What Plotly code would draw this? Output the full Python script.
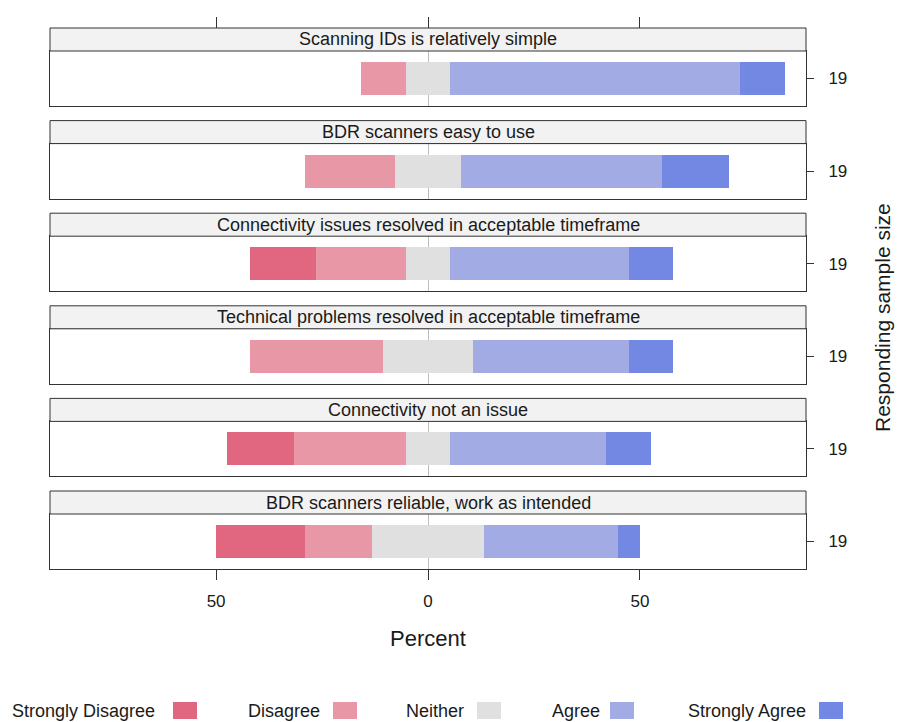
import plotly.graph_objects as go

# Survey items, top to bottom
items = [
    "Scanning IDs is relatively simple",
    "BDR scanners easy to use",
    "Connectivity issues resolved in acceptable timeframe",
    "Technical problems resolved in acceptable timeframe",
    "Connectivity not an issue",
    "BDR scanners reliable, work as intended",
]
levels = ["Strongly Disagree", "Disagree", "Neither", "Agree", "Strongly Agree"]

# Response counts per item
strongly_disagree = [0, 0, 3, 0, 3, 4]
disagree = [2, 4, 4, 6, 5, 3]
neither = [2, 3, 2, 4, 2, 5]
agree = [13, 9, 8, 7, 7, 6]
strongly_agree = [2, 3, 2, 2, 2, 1]
sample_size = [19, 19, 19, 19, 19, 19]

tick_vals = [-50, 0, 50]
tick_text = ["50", "0", "50"]

colors = {
    "Strongly Disagree": "#E0677F",
    "Disagree": "#E897A7",
    "Neither": "#E0E0E0",
    "Agree": "#A2ABE3",
    "Strongly Agree": "#7388E3",
}

FONT = "Liberation Sans, Arial, sans-serif"
TXT = "#1a1a1a"
LINE = "#333333"

W, H = 897, 722
ML, MR, MT, MB = 50, 91, 28, 153
plot_h = H - MT - MB
STRIP = 23      # strip height (px)
PANEL = 55      # panel height (px)
PERIOD = 92.6   # distance between panel tops (px)
XR = [-89.2, 89.2]

fig = go.Figure()
n_items = len(items)

for i, item in enumerate(items):
    k = i + 1
    sfx = "" if k == 1 else str(k)
    xa, ya = f"x{sfx}", f"y{sfx}"
    n = sample_size[i]
    pct = lambda v: v / n * 100.0
    half_neither = pct(neither[i]) / 2.0
    y = [item]
    common = dict(orientation="h", width=0.6, xaxis=xa, yaxis=ya,
                  showlegend=False, marker_line_width=0, hoverinfo="skip")
    # negative side stacks outward from zero: neither half, disagree, strongly disagree
    fig.add_trace(go.Bar(x=[-half_neither], y=y, marker_color=colors["Neither"], **common))
    fig.add_trace(go.Bar(x=[half_neither], y=y, marker_color=colors["Neither"], **common))
    fig.add_trace(go.Bar(x=[-pct(disagree[i])], y=y, marker_color=colors["Disagree"], **common))
    fig.add_trace(go.Bar(x=[pct(agree[i])], y=y, marker_color=colors["Agree"], **common))
    fig.add_trace(go.Bar(x=[-pct(strongly_disagree[i])], y=y, marker_color=colors["Strongly Disagree"], **common))
    fig.add_trace(go.Bar(x=[pct(strongly_agree[i])], y=y, marker_color=colors["Strongly Agree"], **common))

    top_px = MT + i * PERIOD + STRIP
    bot_px = top_px + PANEL
    dom = [(H - MB - bot_px) / plot_h, (H - MB - top_px) / plot_h]
    last = (i == n_items - 1)

    fig.update_layout(**{
        f"xaxis{sfx}": dict(
            domain=[0, 1], anchor=ya, range=XR,
            tickvals=tick_vals, ticktext=tick_text,
            showticklabels=last, ticks="outside" if last else "",
            ticklen=10, tickwidth=1, tickcolor=LINE,
            ticklabelstandoff=7,
            tickfont=dict(size=17, color=TXT, family=FONT),
            showline=True, mirror=True, linecolor=LINE, linewidth=1,
            showgrid=False, zeroline=True, zerolinecolor="#BDBDBD", zerolinewidth=1,
            fixedrange=True,
        ),
        f"yaxis{sfx}": dict(
            domain=dom, anchor=xa, side="right",
            type="category", range=[-0.5, 0.5],
            tickvals=[item], ticktext=[str(n)],
            ticks="outside", ticklen=7, tickwidth=1, tickcolor=LINE,
            ticklabelstandoff=11,
            tickfont=dict(size=17, color=TXT, family=FONT),
            showline=True, mirror=True, linecolor=LINE, linewidth=1,
            showgrid=False, zeroline=False, fixedrange=True,
        ),
    })

    # strip header above each panel
    fig.add_shape(type="rect", xref=f"{xa} domain", yref=f"{ya} domain",
                  x0=0, x1=1, y0=1, y1=1 + STRIP / PANEL,
                  fillcolor="#F2F2F2", line=dict(color=LINE, width=1), layer="above")
    fig.add_annotation(text=item, xref=f"{xa} domain", yref=f"{ya} domain",
                       x=0.5, y=1 + STRIP / PANEL / 2, showarrow=False,
                       xanchor="center", yanchor="middle",
                       font=dict(size=18, color=TXT, family=FONT))

# top tick marks above the first strip
fig.add_trace(go.Scatter(x=[None], y=[None], xaxis="x7", yaxis="y",
                         showlegend=False, hoverinfo="skip"))
fig.update_layout(xaxis7=dict(
    domain=[0, 1], anchor="free", position=1, side="top", overlaying="x",
    range=XR, tickvals=tick_vals, showticklabels=False,
    ticks="outside", ticklen=11, tickwidth=1, tickcolor=LINE,
    showline=False, showgrid=False, zeroline=False, fixedrange=True,
))

def px_x(p):
    return (p - ML) / (W - ML - MR)

def px_y(p):
    return (H - MB - p) / plot_h

# axis titles
fig.add_annotation(text="Percent", xref="paper", yref="paper",
                   x=px_x(428), y=px_y(638), showarrow=False,
                   xanchor="center", yanchor="middle",
                   font=dict(size=22, color=TXT, family=FONT))
fig.add_annotation(text="Responding sample size", xref="paper", yref="paper",
                   x=px_x(882), y=px_y(318), showarrow=False, textangle=-90,
                   xanchor="center", yanchor="middle",
                   font=dict(size=21, color=TXT, family=FONT))

# legend: label followed by a colour key
legend_swatch_left = [173, 333, 477, 610, 819]
legend_text_right = [157, 322, 466, 602, 808]
for lvl, sx, tx in zip(levels, legend_swatch_left, legend_text_right):
    fig.add_shape(type="rect", xref="paper", yref="paper",
                  x0=px_x(sx), x1=px_x(sx + 24), y0=px_y(719), y1=px_y(702),
                  fillcolor=colors[lvl], line=dict(width=0))
    fig.add_annotation(text=lvl, xref="paper", yref="paper",
                       x=px_x(tx), y=px_y(711), showarrow=False,
                       xanchor="right", yanchor="middle",
                       font=dict(size=18, color=TXT, family=FONT))

fig.update_layout(
    width=W, height=H,
    margin=dict(l=ML, r=MR, t=MT, b=MB, autoexpand=False),
    barmode="relative", bargap=0,
    plot_bgcolor="white", paper_bgcolor="white",
    font=dict(family=FONT, color=TXT),
    showlegend=False,
)

fig.write_html("out.html", config={"displayModeBar": False})
